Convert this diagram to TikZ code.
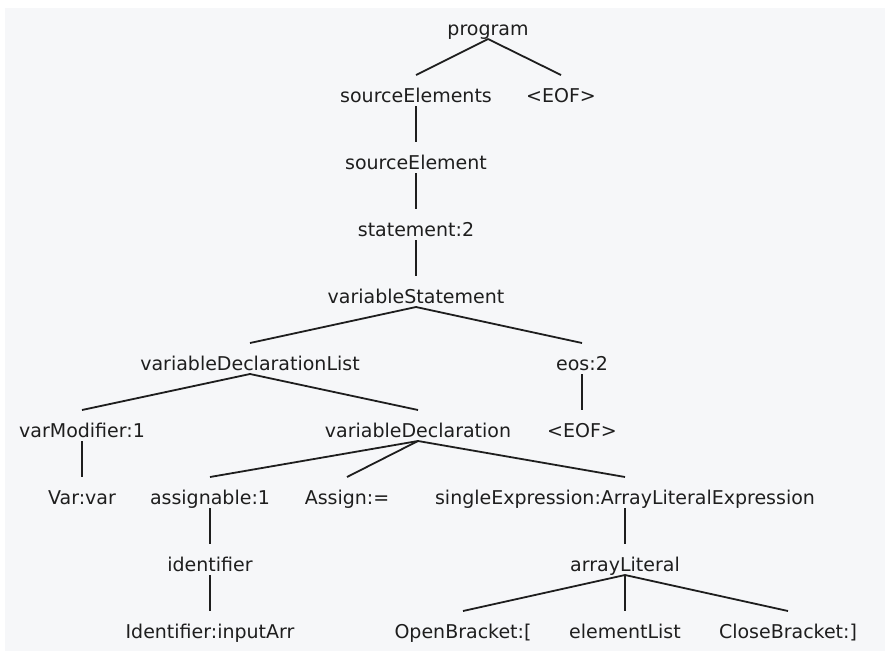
\documentclass[tikz,border=0pt]{standalone}
\usepackage{fontspec}
\setmainfont{DejaVu Sans}
\usepackage{tikz}
\usetikzlibrary{positioning}
\definecolor{panel}{RGB}{246,247,249}
\definecolor{ink}{RGB}{30,30,30}

\begin{document}
\begin{tikzpicture}[x=1pt, y=1pt, node distance={67pt}, ink, line width=1.8pt, main/.style = {inner sep=0pt, outer sep=0pt, text height=27pt, text depth=4pt, font=\fontsize{19}{23}\selectfont}]
\useasboundingbox (0,0) rectangle (885,-651);
\fill[panel] (5,-8) rectangle (885,-651);

\node[main] (1) at (488,-23.5) {program};
\node[main] (2) [below of=1, xshift=-72pt]{sourceElements};
\node[main] (3) [below of=1, xshift=73pt]{<EOF>};
\node[main] (4) [below of=2]{sourceElement};
\node[main] (5) [below of=4]{statement:2};
\node[main] (6) [below of=5]{variableStatement};

\node[main] (7) [below of=6, xshift=-166pt]{variableDeclarationList};
\node[main] (8) [below of=6, xshift=166pt]{eos:2};
\node[main] (9) [below of=7, xshift=-168pt]{varModifier:1};
\node[main] (10) [below of=7, xshift=168pt]{variableDeclaration};
\node[main] (11) [below of=8]{<EOF>};
\node[main] (12) [below of=9]{Var:var};
\node[main] (13) [below of=10, xshift=-208pt]{assignable:1};
\node[main] (14) [below of=10, xshift=-71pt]{Assign:=};
\node[main] (15) [below of=10, xshift=207pt]{singleExpression:ArrayLiteralExpression};
\node[main] (16) [below of=13]{identifier};
\node[main] (17) [below of=15]{arrayLiteral};
\node[main] (18) [below of=16]{Identifier:inputArr};
\node[main] (19) [below of=17, xshift=-162pt]{OpenBracket:[};
\node[main] (20) [below of=17]{elementList};
\node[main] (21) [below of=17, xshift=163pt]{CloseBracket:]};

\draw (1.south)--(2.north); \draw (1.south)--(3.north);
\draw (2.south)--(4.north);
\draw (4.south)--(5.north);
\draw (5.south)--(6.north);
\draw (6.south)--(7.north); \draw (6.south)--(8.north);
\draw (7.south)--(9.north); \draw (7.south)--(10.north); \draw (8.south)--(11.north);
\draw (9.south)--(12.north);
\draw (10.south)--(13.north); \draw (10.south)--(14.north); \draw (10.south)--(15.north);
\draw (13.south)--(16.north); \draw (16.south)--(18.north);
\draw (15.south)--(17.north);
\draw (17.south)--(19.north); \draw (17.south)--(20.north); \draw (17.south)--(21.north);

\end{tikzpicture}
\end{document}
